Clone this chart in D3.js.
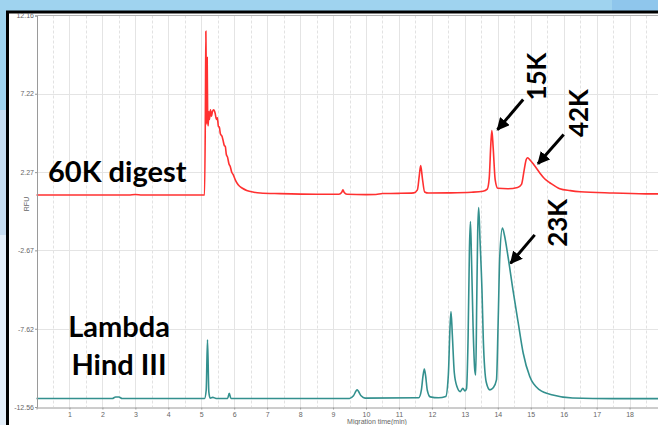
<!DOCTYPE html>
<html>
<head>
<meta charset="utf-8">
<script src="https://cdnjs.cloudflare.com/ajax/libs/d3/7.8.5/d3.min.js"></script>
<style>
	body{margin:0;background:#9fd3ef;overflow:hidden;}
	svg{display:block;}
</style>
</head>
<body>
<svg id="chart" width="658" height="425"></svg>
<script>
// x ticks (min) and y ticks (RFU) as printed by the instrument software
var xTicks = [1,2,3,4,5,6,7,8,9,10,11,12,13,14,15,16,17,18];
var yTicks = [12.16, 7.22, 2.27, -2.67, -7.62, -12.56];

// 60K digest trace : [time(min), RFU]
var digestTrace = [
	[0,0.83],[2.8,0.83],[3.0,0.86],[3.2,0.83],[5.10,0.83],
	[5.125,6.0],[5.14,11.17],[5.155,7.5],[5.165,5.3],[5.18,9.5],[5.195,5.6],
	[5.21,5.2],[5.23,6.1],[5.25,5.6],[5.28,6.2],[5.31,5.8],[5.34,6.1],[5.38,6.2],
	[5.42,6.0],[5.46,5.6],[5.49,5.7],[5.52,5.16],[5.55,5.1],[5.58,4.7],[5.63,4.53],
	[5.66,4.3],[5.70,3.95],[5.73,3.9],[5.76,3.4],[5.80,3.2],[5.84,2.8],[5.88,2.63],
	[5.92,2.3],[5.97,2.11],[6.04,1.75],[6.12,1.47],[6.25,1.25],[6.38,1.11],[6.6,1.0],
	[6.79,0.95],[7.39,0.91],[8.5,0.87],[9.18,0.87],[9.26,0.98],[9.3,1.16],[9.34,0.98],
	[9.42,0.87],[10.0,0.85],[10.3,0.86],[10.5,0.92],[11.0,0.93],[11.45,0.96],
	[11.56,1.15],[11.62,2.1],[11.66,2.68],[11.71,1.9],[11.78,1.02],[11.9,0.95],
	[12.5,0.96],[13.2,1.0],[13.55,1.06],[13.68,1.2],[13.74,1.9],[13.79,4.1],
	[13.82,4.89],[13.86,3.8],[13.92,1.8],[14.0,1.25],[14.3,1.22],[14.6,1.3],
	[14.72,1.5],[14.8,2.4],[14.86,3.05],[14.9,3.18],[14.96,3.08],[15.1,2.72],
	[15.27,2.23],[15.42,1.85],[15.58,1.6],[15.88,1.22],[16.2,1.1],[16.5,1.03],
	[17.5,0.95],[18.5,0.9],[20,0.88]
];

// Lambda Hind III ladder trace : [time(min), RFU]
var lambdaTrace = [
	[0,-12.02],[2.3,-12.02],[2.4,-11.93],[2.5,-11.93],[2.6,-12.02],[5.10,-12.02],
	[5.15,-11.5],[5.19,-8.32],[5.23,-11.6],[5.27,-12.0],[5.35,-11.95],[5.45,-12.02],
	[5.80,-12.02],[5.85,-11.69],[5.9,-12.02],[9.5,-12.02],[9.62,-11.85],[9.73,-11.48],
	[9.85,-11.85],[9.97,-12.0],[11.6,-11.98],[11.68,-11.5],[11.73,-10.6],[11.77,-10.16],
	[11.81,-10.6],[11.86,-11.5],[11.95,-11.92],[12.2,-11.98],[12.42,-11.9],[12.5,-10.5],
	[12.55,-7.5],[12.58,-6.54],[12.62,-8.0],[12.68,-10.4],[12.76,-11.27],[12.86,-11.59],
	[12.94,-11.38],[13.0,-11.55],[13.05,-11.4],[13.1,-8],[13.14,-2.5],[13.17,-0.85],
	[13.2,-3],[13.25,-7.5],[13.3,-10.2],[13.33,-10.54],[13.36,-6],[13.39,-1.5],
	[13.42,0.04],[13.46,-2],[13.52,-5.2],[13.56,-8.3],[13.65,-11.0],[13.76,-11.48],
	[13.86,-11.35],[13.96,-10.85],[14.01,-7.25],[14.06,-3.06],[14.14,-1.26],
	[14.2,-1.7],[14.31,-3.06],[14.46,-5.16],[14.62,-7.25],[14.77,-9.15],[14.97,-10.64],
	[15.27,-11.48],[15.67,-11.8],[16.27,-11.99],[17.5,-12.03],[20,-12.03]
];

// size labels with arrows : label, label point, arrow tail, arrow tip (time, RFU)
var peakLabels = ["15K","42K","23K"];
var peakLabelAt = [[15.18,8.3],[16.44,6.0],[15.83,-0.93]];
var arrowFrom = [[14.77,6.85],[16.0,4.64],[15.12,-1.69]];
var arrowTo = [[13.99,4.95],[15.22,2.80],[14.39,-3.48]];

var svg = d3.select("#chart");

//背景 (slide background around the screenshot)
svg.append("rect").attr("x",0).attr("y",0).attr("width",658).attr("height",425).attr("fill","#9fd3ef");
svg.append("rect").attr("x",612).attr("y",0).attr("width",46).attr("height",12).attr("fill","#8fc6ec");
svg.append("rect").attr("x",0).attr("y",110).attr("width",8).attr("height",125).attr("fill","#c6dcf0");
svg.append("rect").attr("x",0).attr("y",235).attr("width",8).attr("height",190).attr("fill","#e3eef9");
svg.append("rect")
	.attr("x",7.5).attr("y",12)
	.attr("width",720).attr("height",500)
	.attr("fill","#fff")
	.attr("stroke","#000")
	.attr("stroke-width",3);

var x = d3.scaleLinear().domain([0,20]).range([36.5,695.5]);
var y = d3.scaleLinear().domain([yTicks[5],yTicks[0]]).range([407,15.5]);

var plot = svg.append("g");

// grid : solid at whole minutes, dashed at halves
var gridTicks = xTicks.concat([19]);
var halfTicks = gridTicks.map(function(d){ return d-0.5; });
plot.append("g").selectAll("line").data(halfTicks).enter().append("line")
	.attr("x1",function(d){ return Math.round(x(d))+0.5; })
	.attr("x2",function(d){ return Math.round(x(d))+0.5; })
	.attr("y1",y.range()[1]).attr("y2",y.range()[0])
	.attr("stroke","#e2e2e2").attr("stroke-dasharray","3,2");
plot.append("g").selectAll("line").data(gridTicks).enter().append("line")
	.attr("x1",function(d){ return Math.round(x(d))+0.5; })
	.attr("x2",function(d){ return Math.round(x(d))+0.5; })
	.attr("y1",y.range()[1]).attr("y2",y.range()[0])
	.attr("stroke","#e4e4e4");
plot.append("g").selectAll("line").data(yTicks.slice(1,5)).enter().append("line")
	.attr("x1",x(0)).attr("x2",700)
	.attr("y1",function(d){ return Math.round(y(d))+0.5; })
	.attr("y2",function(d){ return Math.round(y(d))+0.5; })
	.attr("stroke","#e4e4e4");

// axes
var yAxis = d3.axisLeft(y).tickValues(yTicks).tickSize(2).tickPadding(1)
	.tickFormat(function(d){ return d.toFixed(2); });
var gy = svg.append("g").attr("transform","translate(" + (x(0)+0.5) + ",0)").call(yAxis);
var xAxis = d3.axisBottom(x).tickValues(xTicks).tickSize(2).tickPadding(3).tickFormat(d3.format("d"));
var gx = svg.append("g").attr("transform","translate(0," + (y.range()[0]+0.5) + ")").call(xAxis);
[gy,gx].forEach(function(g){
	g.select(".domain").attr("stroke","#9a9a9a");
	g.selectAll(".tick line").attr("stroke","#9a9a9a");
	g.selectAll("text").attr("fill","#666").attr("font-size","7px").attr("font-family","Liberation Sans, Arial, sans-serif");
});
// top border of plot
svg.append("line").attr("x1",x(0)).attr("x2",700).attr("y1",15.5).attr("y2",15.5).attr("stroke","#b0b0b0");

svg.append("text")
	.attr("transform","translate(28.5,204) rotate(-90)")
	.attr("text-anchor","middle")
	.attr("font-size","7px").attr("fill","#666")
	.attr("font-family","Liberation Sans, Arial, sans-serif")
	.text("RFU");
svg.append("text")
	.attr("x",377).attr("y",424)
	.attr("text-anchor","middle")
	.attr("font-size","7px").attr("fill","#666")
	.attr("font-family","Liberation Sans, Arial, sans-serif")
	.text("Migration time(min)");

// traces
var line = d3.line()
	.x(function(d){ return x(d[0]); })
	.y(function(d){ return y(d[1]); })
	.curve(d3.curveMonotoneX);

plot.append("path").datum(lambdaTrace)
	.attr("d",line).attr("fill","none")
	.attr("stroke","#33908e").attr("stroke-width",1.6);
plot.append("path").datum(digestTrace)
	.attr("d",line).attr("fill","none")
	.attr("stroke","#ff3030").attr("stroke-width",1.6);

// sample labels
var bold = "Lato, 'Open Sans', sans-serif";
svg.append("text").attr("x",48).attr("y",182)
	.attr("font-family",bold).attr("font-weight",700).attr("font-size","29px")
	.text("60K digest");
svg.append("text").attr("x",119).attr("y",337).attr("text-anchor","middle")
	.attr("font-family",bold).attr("font-weight",700).attr("font-size","29px")
	.text("Lambda");
svg.append("text").attr("x",119).attr("y",375).attr("text-anchor","middle")
	.attr("font-family",bold).attr("font-weight",700).attr("font-size","29px")
	.text("Hind III");

// arrows
svg.append("defs").append("marker")
	.attr("id","head")
	.attr("viewBox","0 0 10 10")
	.attr("refX",9).attr("refY",5)
	.attr("markerWidth",4.2).attr("markerHeight",4.2)
	.attr("markerUnits","strokeWidth")
	.attr("orient","auto")
	.append("path").attr("d","M0,0L10,5L0,10Z").attr("fill","#000");

svg.append("g").selectAll("line").data(arrowFrom).enter().append("line")
	.attr("x1",function(d){ return x(d[0]); })
	.attr("y1",function(d){ return y(d[1]); })
	.attr("x2",function(d,i){ return x(arrowTo[i][0]); })
	.attr("y2",function(d,i){ return y(arrowTo[i][1]); })
	.attr("stroke","#000").attr("stroke-width",3)
	.attr("marker-end","url(#head)");

svg.append("g").selectAll("text").data(peakLabels).enter().append("text")
	.attr("transform",function(d,i){
		return "translate(" + x(peakLabelAt[i][0]) + "," + y(peakLabelAt[i][1]) + ") rotate(-90)";
	})
	.attr("text-anchor","middle")
	.attr("dy","0.36em")
	.attr("font-family",bold).attr("font-weight",700).attr("font-size","26px")
	.text(function(d){ return d; });
</script>
</body>
</html>
